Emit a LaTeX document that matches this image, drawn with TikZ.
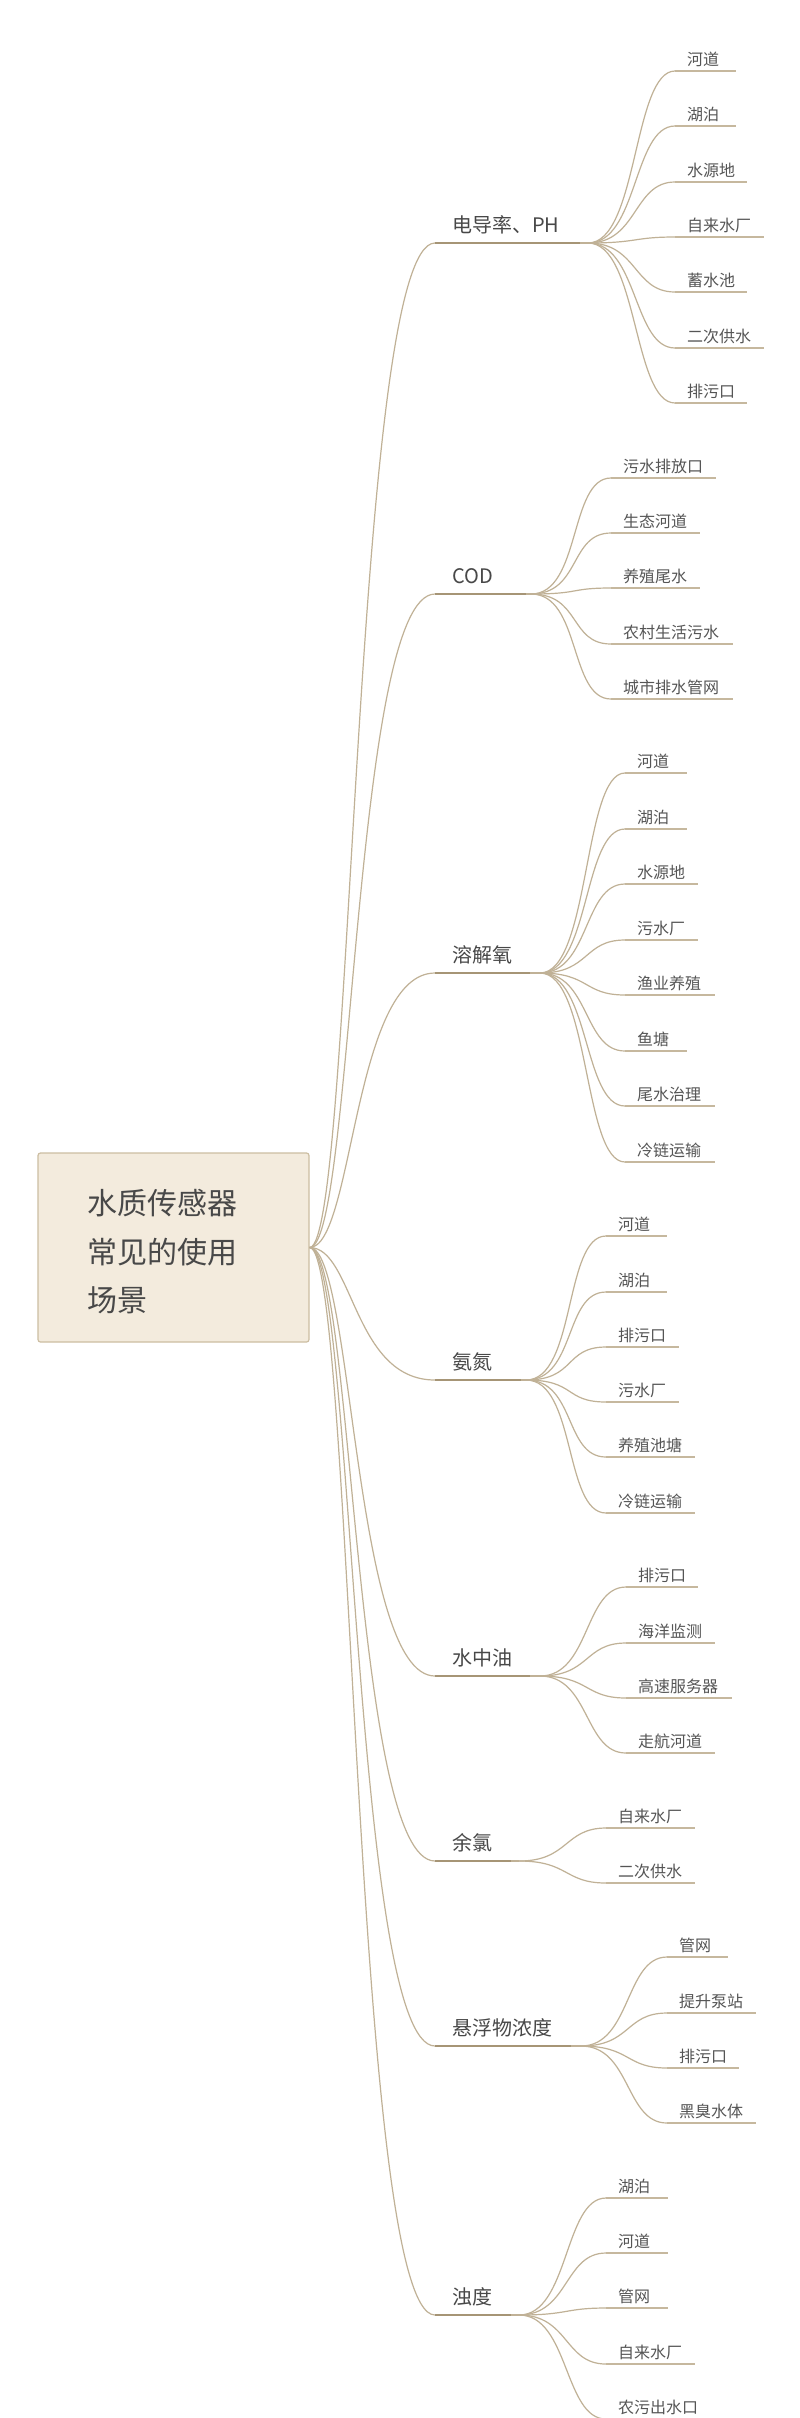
\documentclass[tikz,border=0pt]{standalone}
\usepackage{fontspec}
\newfontfamily\cjk{Noto Sans CJK SC}
\definecolor{branchc}{RGB}{192,177,150}
\definecolor{lonec}{RGB}{166,149,118}
\definecolor{ltwoc}{RGB}{198,184,158}
\definecolor{boxfill}{RGB}{243,235,221}
\definecolor{boxdraw}{RGB}{204,190,162}
\definecolor{txtc}{RGB}{72,72,72}
\definecolor{ctxtc}{RGB}{85,85,85}
\tikzset{
  rootbox/.style={draw=boxdraw, fill=boxfill, line width=1.2pt, rounded corners=2.5pt,
    minimum width=271pt, minimum height=189pt, inner sep=0pt},
  roottext/.style={font=\cjk\fontsize{30}{36}\selectfont, text=txtc, inner sep=0pt, anchor=base west},
  ltext/.style={font=\cjk\fontsize{20}{24}\selectfont, text=txtc, inner sep=0pt, anchor=base west},
  ctext/.style={font=\cjk\fontsize{16}{19}\selectfont, text=ctxtc, inner sep=0pt, anchor=base west},
  branch/.style={draw=branchc, line width=1.2pt},
  l1line/.style={draw=lonec, line width=2.7pt},
  l2line/.style={draw=ltwoc, line width=1.5pt},
}
% #1 name, #2 y, #3 underline end x, #4 fan x, #5 text
\newcommand{\Lone}[5]{%
  \coordinate (#1s) at (435,-#2);
  \coordinate (#1e) at (#3,-#2);
  \coordinate (#1f) at (#4,-#2);
  \node[ltext] (#1) at (452,-#2+11) {#5};
  \draw[branch] (rc) .. controls +(44,0) and +(-82,0) .. (#1s);
  \draw[branch] (#1e) -- (#1f);
  \draw[l1line] (#1s) -- (#1e);
}
% #1 parent, #2 name, #3 y, #4 start x, #5 end x, #6 text
\newcommand{\Ltwo}[6]{%
  \coordinate (#2s) at (#4,-#3);
  \coordinate (#2e) at (#5,-#3);
  \node[ctext] (#2) at (#4+12,-#3+6) {#6};
  \draw[branch] (#1f) .. controls +(50,0) and +(-42,0) .. (#2s);
  \draw[l2line] (#2s) -- (#2e);
}
\begin{document}
\begin{tikzpicture}[x=1pt,y=1pt]
\useasboundingbox (0,0) rectangle (800,-2418);
\fill[white] (0,0) rectangle (800,-2418);
\clip (0,0) rectangle (800,-2418);
\node[rootbox] (root) at (173.5,-1247.5) {};
\coordinate (rc) at (root.east);
\node[roottext] (rt1) at (87,-1214) {水质传感器};
\node[roottext] (rt2) at (87,-1263) {常见的使用};
\node[roottext] (rt3) at (87,-1311) {场景};
% group 1
\Lone{a}{243}{580}{588}{电导率、PH}
\Ltwo{a}{a1}{71}{675}{736}{河道}
\Ltwo{a}{a2}{126}{675}{736}{湖泊}
\Ltwo{a}{a3}{182}{675}{747}{水源地}
\Ltwo{a}{a4}{237}{675}{764}{自来水厂}
\Ltwo{a}{a5}{292}{675}{747}{蓄水池}
\Ltwo{a}{a6}{348}{675}{764}{二次供水}
\Ltwo{a}{a7}{403}{675}{747}{排污口}
% group 2
\Lone{b}{594}{526}{531}{COD}
\Ltwo{b}{b1}{478}{611}{716}{污水排放口}
\Ltwo{b}{b2}{533}{611}{700}{生态河道}
\Ltwo{b}{b3}{588}{611}{700}{养殖尾水}
\Ltwo{b}{b4}{644}{611}{733}{农村生活污水}
\Ltwo{b}{b5}{699}{611}{733}{城市排水管网}
% group 3
\Lone{c}{973}{530}{540}{溶解氧}
\Ltwo{c}{c1}{773}{625}{687}{河道}
\Ltwo{c}{c2}{829}{625}{687}{湖泊}
\Ltwo{c}{c3}{884}{625}{698}{水源地}
\Ltwo{c}{c4}{940}{625}{698}{污水厂}
\Ltwo{c}{c5}{995}{625}{715}{渔业养殖}
\Ltwo{c}{c6}{1051}{625}{687}{鱼塘}
\Ltwo{c}{c7}{1106}{625}{715}{尾水治理}
\Ltwo{c}{c8}{1162}{625}{715}{冷链运输}
% group 4
\Lone{d}{1380}{521}{526}{氨氮}
\Ltwo{d}{d1}{1236}{606}{667}{河道}
\Ltwo{d}{d2}{1292}{606}{667}{湖泊}
\Ltwo{d}{d3}{1347}{606}{679}{排污口}
\Ltwo{d}{d4}{1402}{606}{679}{污水厂}
\Ltwo{d}{d5}{1457}{606}{695}{养殖池塘}
\Ltwo{d}{d6}{1513}{606}{695}{冷链运输}
% group 5
\Lone{e}{1676}{530}{540}{水中油}
\Ltwo{e}{e1}{1587}{626}{698}{排污口}
\Ltwo{e}{e2}{1643}{626}{715}{海洋监测}
\Ltwo{e}{e3}{1698}{626}{732}{高速服务器}
\Ltwo{e}{e4}{1753}{626}{715}{走航河道}
% group 6
\Lone{f}{1861}{511}{519}{余氯}
\Ltwo{f}{f1}{1828}{606}{695}{自来水厂}
\Ltwo{f}{f2}{1883}{606}{695}{二次供水}
% group 7
\Lone{g}{2046}{571}{581}{悬浮物浓度}
\Ltwo{g}{g1}{1957}{667}{728}{管网}
\Ltwo{g}{g2}{2013}{667}{756}{提升泵站}
\Ltwo{g}{g3}{2068}{667}{739}{排污口}
\Ltwo{g}{g4}{2123}{667}{756}{黑臭水体}
% group 8
\Lone{h}{2315}{511}{519}{浊度}
\Ltwo{h}{h1}{2198}{606}{668}{湖泊}
\Ltwo{h}{h2}{2253}{606}{668}{河道}
\Ltwo{h}{h3}{2308}{606}{668}{管网}
\Ltwo{h}{h4}{2364}{606}{695}{自来水厂}
\Ltwo{h}{h5}{2419}{606}{711}{农污出水口}
\end{tikzpicture}
\end{document}
